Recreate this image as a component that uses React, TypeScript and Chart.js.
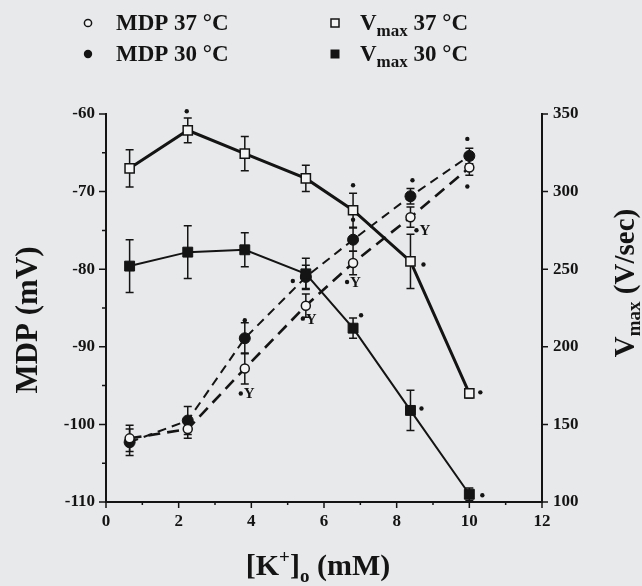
import { useEffect, useRef } from 'react';
import { Chart, registerables } from 'chart.js';

Chart.register(...registerables);

// ---- data ----
const kConc = [0.65, 2.25, 3.82, 5.5, 6.8, 8.38, 10];
const mdp37 = [-101.8, -100.6, -92.8, -84.7, -79.2, -73.3, -66.9];
const mdp37Err = [1.7, 1.2, 2.0, 1.5, 1.5, 1.3, 1.0];
const mdp30 = [-102.3, -99.5, -88.9, -81.0, -76.2, -70.6, -65.4];
const mdp30Err = [1.7, 1.8, 2.0, 1.5, 1.5, 1.0, 1.0];
const vmax37 = [315, 339.5, 324.5, 308.5, 288, 255, 170];
const vmax37Err = [12, 8, 11, 8.5, 11, 17.5, 3];
const vmax30 = [252, 261, 262.5, 247, 212, 159, 105];
const vmax30Err = [17, 17, 11, 10, 6.5, 13, 4];
const mdp37Sig = ['', '', '*Y', '*Y', '*Y', '*Y', '*'];
const mdp30Sig = ['', '', '*', '*', '*', '*', '*'];
const vmax37Sig = ['', '*', '', '', '*', '*', '*'];
const vmax30Sig = ['', '', '', '', '*', '*', '*'];
const xTickValues = [0, 2, 4, 6, 8, 10, 12];
const mdpTickValues = [-60, -70, -80, -90, -100, -110];
const vmaxTickValues = [100, 150, 200, 250, 300, 350];

// ---- styles (marker placement offsets in px) ----
const FONT = '"Liberation Serif", "Times New Roman", serif';
const INK = '#141414';
const BG = '#e8e9eb';
const sigOffsets: Record<string, (number[] | null)[]> = {
  mdp37: [null, null, [-4, 25], [-3, 13], [-6, 19], [6, 13], [-2, 19]],
  mdp30: [null, null, [0, -18], [-13, 4], [0, -20], [2, -16], [-2, -17]],
  vmax37: [null, [-1, -19], null, null, [0, -25], [13, 3], [11, -1]],
  vmax30: [null, null, null, null, [8, -13], [11, -2], [13, 1]],
};

type Part = { text: string; size: number; dy?: number };

function drawRich(ctx: CanvasRenderingContext2D, parts: Part[], x: number, y: number) {
  let total = 0;
  const widths = parts.map((p) => {
    ctx.font = `bold ${p.size}px ${FONT}`;
    const w = ctx.measureText(p.text).width;
    total += w;
    return w;
  });
  let cx = x - total / 2;
  ctx.textAlign = 'left';
  ctx.textBaseline = 'alphabetic';
  parts.forEach((p, i) => {
    ctx.font = `bold ${p.size}px ${FONT}`;
    ctx.fillText(p.text, cx, y + (p.dy || 0));
    cx += widths[i];
  });
}

function drawLeftText(ctx: CanvasRenderingContext2D, parts: Part[], x: number, y: number) {
  let cx = x;
  ctx.textAlign = 'left';
  ctx.textBaseline = 'alphabetic';
  parts.forEach((p) => {
    ctx.font = `bold ${p.size}px ${FONT}`;
    ctx.fillText(p.text, cx, y + (p.dy || 0));
    cx += ctx.measureText(p.text).width;
  });
}

const decorPlugin = {
  id: 'decor',
  beforeDraw(chart: any) {
    const ctx = chart.ctx as CanvasRenderingContext2D;
    ctx.save();
    ctx.fillStyle = BG;
    ctx.fillRect(0, 0, chart.width, chart.height);
    ctx.restore();
  },
  beforeDatasetsDraw(chart: any) {
    const ctx = chart.ctx as CanvasRenderingContext2D;
    ctx.save();
    ctx.strokeStyle = INK;
    ctx.lineWidth = 1.5;
    chart.data.datasets.forEach((ds: any, di: number) => {
      const meta = chart.getDatasetMeta(di);
      const yScale = chart.scales[ds.yAxisID];
      ds.data.forEach((pt: any, i: number) => {
        const e = ds.errors[i];
        if (!e) return;
        const px = meta.data[i].x;
        const y1 = yScale.getPixelForValue(pt.y - e);
        const y2 = yScale.getPixelForValue(pt.y + e);
        ctx.beginPath();
        ctx.moveTo(px, y1);
        ctx.lineTo(px, y2);
        ctx.moveTo(px - 4, y1);
        ctx.lineTo(px + 4, y1);
        ctx.moveTo(px - 4, y2);
        ctx.lineTo(px + 4, y2);
        ctx.stroke();
      });
    });
    ctx.restore();
  },
  afterDraw(chart: any) {
    const ctx = chart.ctx as CanvasRenderingContext2D;
    const { left, right, bottom } = chart.chartArea;
    const xs = chart.scales.x;
    const yl = chart.scales.y;
    const yr = chart.scales.y2;
    ctx.save();
    ctx.strokeStyle = INK;
    ctx.fillStyle = INK;
    ctx.lineWidth = 1.5;
    // ticks
    ctx.beginPath();
    for (let v = 0; v <= 12; v += 1) {
      const px = xs.getPixelForValue(v);
      const len = v % 2 === 0 ? 6 : 3;
      ctx.moveTo(px, bottom);
      ctx.lineTo(px, bottom + len);
    }
    for (let v = -110; v <= -60; v += 5) {
      const py = yl.getPixelForValue(v);
      const len = v % 10 === 0 ? 7 : 4;
      ctx.moveTo(left, py);
      ctx.lineTo(left - len, py);
    }
    vmaxTickValues.forEach((v) => {
      const py = yr.getPixelForValue(v);
      ctx.moveTo(right, py);
      ctx.lineTo(right + 6, py);
    });
    ctx.stroke();

    // significance marks
    chart.data.datasets.forEach((ds: any, di: number) => {
      const meta = chart.getDatasetMeta(di);
      const offs = sigOffsets[ds.key];
      ds.sig.forEach((s: string, i: number) => {
        if (!s || !offs[i]) return;
        const px = meta.data[i].x + offs[i]![0];
        const py = meta.data[i].y + offs[i]![1];
        ctx.beginPath();
        ctx.arc(px, py, 2.2, 0, Math.PI * 2);
        ctx.fill();
        if (s.includes('Y')) {
          ctx.font = `bold 15px ${FONT}`;
          ctx.textAlign = 'left';
          ctx.textBaseline = 'middle';
          ctx.fillText('Y', px + 3, py + 1);
        }
      });
    });

    // legend
    ctx.lineWidth = 1.5;
    ctx.fillStyle = '#f4f4f4';
    ctx.beginPath();
    ctx.arc(88, 23, 3.6, 0, Math.PI * 2);
    ctx.fill();
    ctx.stroke();
    ctx.fillStyle = INK;
    ctx.beginPath();
    ctx.arc(88, 54, 4.2, 0, Math.PI * 2);
    ctx.fill();
    ctx.fillStyle = '#f4f4f4';
    ctx.fillRect(331, 19, 8, 8);
    ctx.strokeRect(331, 19, 8, 8);
    ctx.fillStyle = INK;
    ctx.fillRect(330.5, 49.5, 9, 9);
    drawLeftText(ctx, [{ text: 'MDP 37 °C', size: 23 }], 116, 30);
    drawLeftText(ctx, [{ text: 'MDP 30 °C', size: 23 }], 116, 61);
    drawLeftText(ctx, [{ text: 'V', size: 23 }, { text: 'max', size: 17, dy: 6 }, { text: ' 37 °C', size: 23 }], 360, 30);
    drawLeftText(ctx, [{ text: 'V', size: 23 }, { text: 'max', size: 17, dy: 6 }, { text: ' 30 °C', size: 23 }], 360, 61);

    // axis titles
    drawRich(ctx, [
      { text: '[K', size: 30 },
      { text: '+', size: 19, dy: -12 },
      { text: ']', size: 30 },
      { text: 'o', size: 19, dy: 7 },
      { text: ' (mM)', size: 30 },
    ], 318, 575);
    ctx.save();
    ctx.translate(37, 320);
    ctx.rotate(-Math.PI / 2);
    drawRich(ctx, [{ text: 'MDP (mV)', size: 31 }], 0, 0);
    ctx.restore();
    ctx.save();
    ctx.translate(634, 283);
    ctx.rotate(-Math.PI / 2);
    drawRich(ctx, [
      { text: 'V', size: 29 },
      { text: 'max', size: 19, dy: 6 },
      { text: ' (V/sec)', size: 29 },
    ], 0, 0);
    ctx.restore();
    ctx.restore();
  },
};

function pts(ys: number[]) {
  return ys.map((y, i) => ({ x: kConc[i], y }));
}

export default function App() {
  const ref = useRef<HTMLCanvasElement | null>(null);
  useEffect(() => {
    if (!ref.current) return;
    const tickFont = { family: FONT, size: 17, weight: 'bold' as const };
    const chart = new Chart(ref.current, {
      type: 'line',
      data: {
        datasets: [
          {
            key: 'vmax37', label: 'Vmax 37 °C', data: pts(vmax37), errors: vmax37Err, sig: vmax37Sig,
            yAxisID: 'y2', borderColor: INK, borderWidth: 3, pointStyle: 'rect', pointRadius: 6.5,
            pointBackgroundColor: '#f4f4f4', pointBorderColor: INK, pointBorderWidth: 1.5, tension: 0,
          },
          {
            key: 'vmax30', label: 'Vmax 30 °C', data: pts(vmax30), errors: vmax30Err, sig: vmax30Sig,
            yAxisID: 'y2', borderColor: INK, borderWidth: 2, pointStyle: 'rect', pointRadius: 7,
            pointBackgroundColor: INK, pointBorderColor: INK, pointBorderWidth: 1, tension: 0,
          },
          {
            key: 'mdp37', label: 'MDP 37 °C', data: pts(mdp37), errors: mdp37Err, sig: mdp37Sig,
            yAxisID: 'y', borderColor: INK, borderWidth: 2.6, borderDash: [12, 7], pointStyle: 'circle', pointRadius: 4.5,
            pointBackgroundColor: '#f4f4f4', pointBorderColor: INK, pointBorderWidth: 1.5, tension: 0,
          },
          {
            key: 'mdp30', label: 'MDP 30 °C', data: pts(mdp30), errors: mdp30Err, sig: mdp30Sig,
            yAxisID: 'y', borderColor: INK, borderWidth: 2, borderDash: [9, 6], pointStyle: 'circle', pointRadius: 5.5,
            pointBackgroundColor: INK, pointBorderColor: INK, pointBorderWidth: 1, tension: 0,
          },
        ] as any,
      },
      options: {
        responsive: false,
        animation: false,
        events: [],
        layout: { padding: { top: 114, left: 0, right: 0, bottom: 0 } },
        plugins: { legend: { display: false }, tooltip: { enabled: false } },
        scales: {
          x: {
            type: 'linear', position: 'bottom', min: 0, max: 12,
            afterBuildTicks: (s: any) => { s.ticks = xTickValues.map((v) => ({ value: v })); },
            afterFit: (s: any) => { s.height = 84; },
            grid: { display: false, drawTicks: false },
            border: { display: true, color: INK, width: 2 },
            ticks: { font: tickFont, color: INK, padding: 9, maxRotation: 0 },
          },
          y: {
            type: 'linear', position: 'left', min: -110, max: -60,
            afterBuildTicks: (s: any) => { s.ticks = mdpTickValues.map((v) => ({ value: v })); },
            afterFit: (s: any) => { s.width = 106; },
            grid: { display: false, drawTicks: false },
            border: { display: true, color: INK, width: 2 },
            ticks: { font: tickFont, color: INK, padding: 11 },
          },
          y2: {
            type: 'linear', position: 'right', min: 100, max: 350,
            afterBuildTicks: (s: any) => { s.ticks = vmaxTickValues.map((v) => ({ value: v })); },
            afterFit: (s: any) => { s.width = 100; },
            grid: { display: false, drawTicks: false },
            border: { display: true, color: INK, width: 2 },
            ticks: { font: tickFont, color: INK, padding: 11 },
          },
        },
      } as any,
      plugins: [decorPlugin],
    });
    return () => chart.destroy();
  }, []);
  return (
    <div style={{ position: 'absolute', left: 0, top: 0, width: 642, height: 586, background: BG }}>
      <canvas ref={ref} width={642} height={586} />
    </div>
  );
}
